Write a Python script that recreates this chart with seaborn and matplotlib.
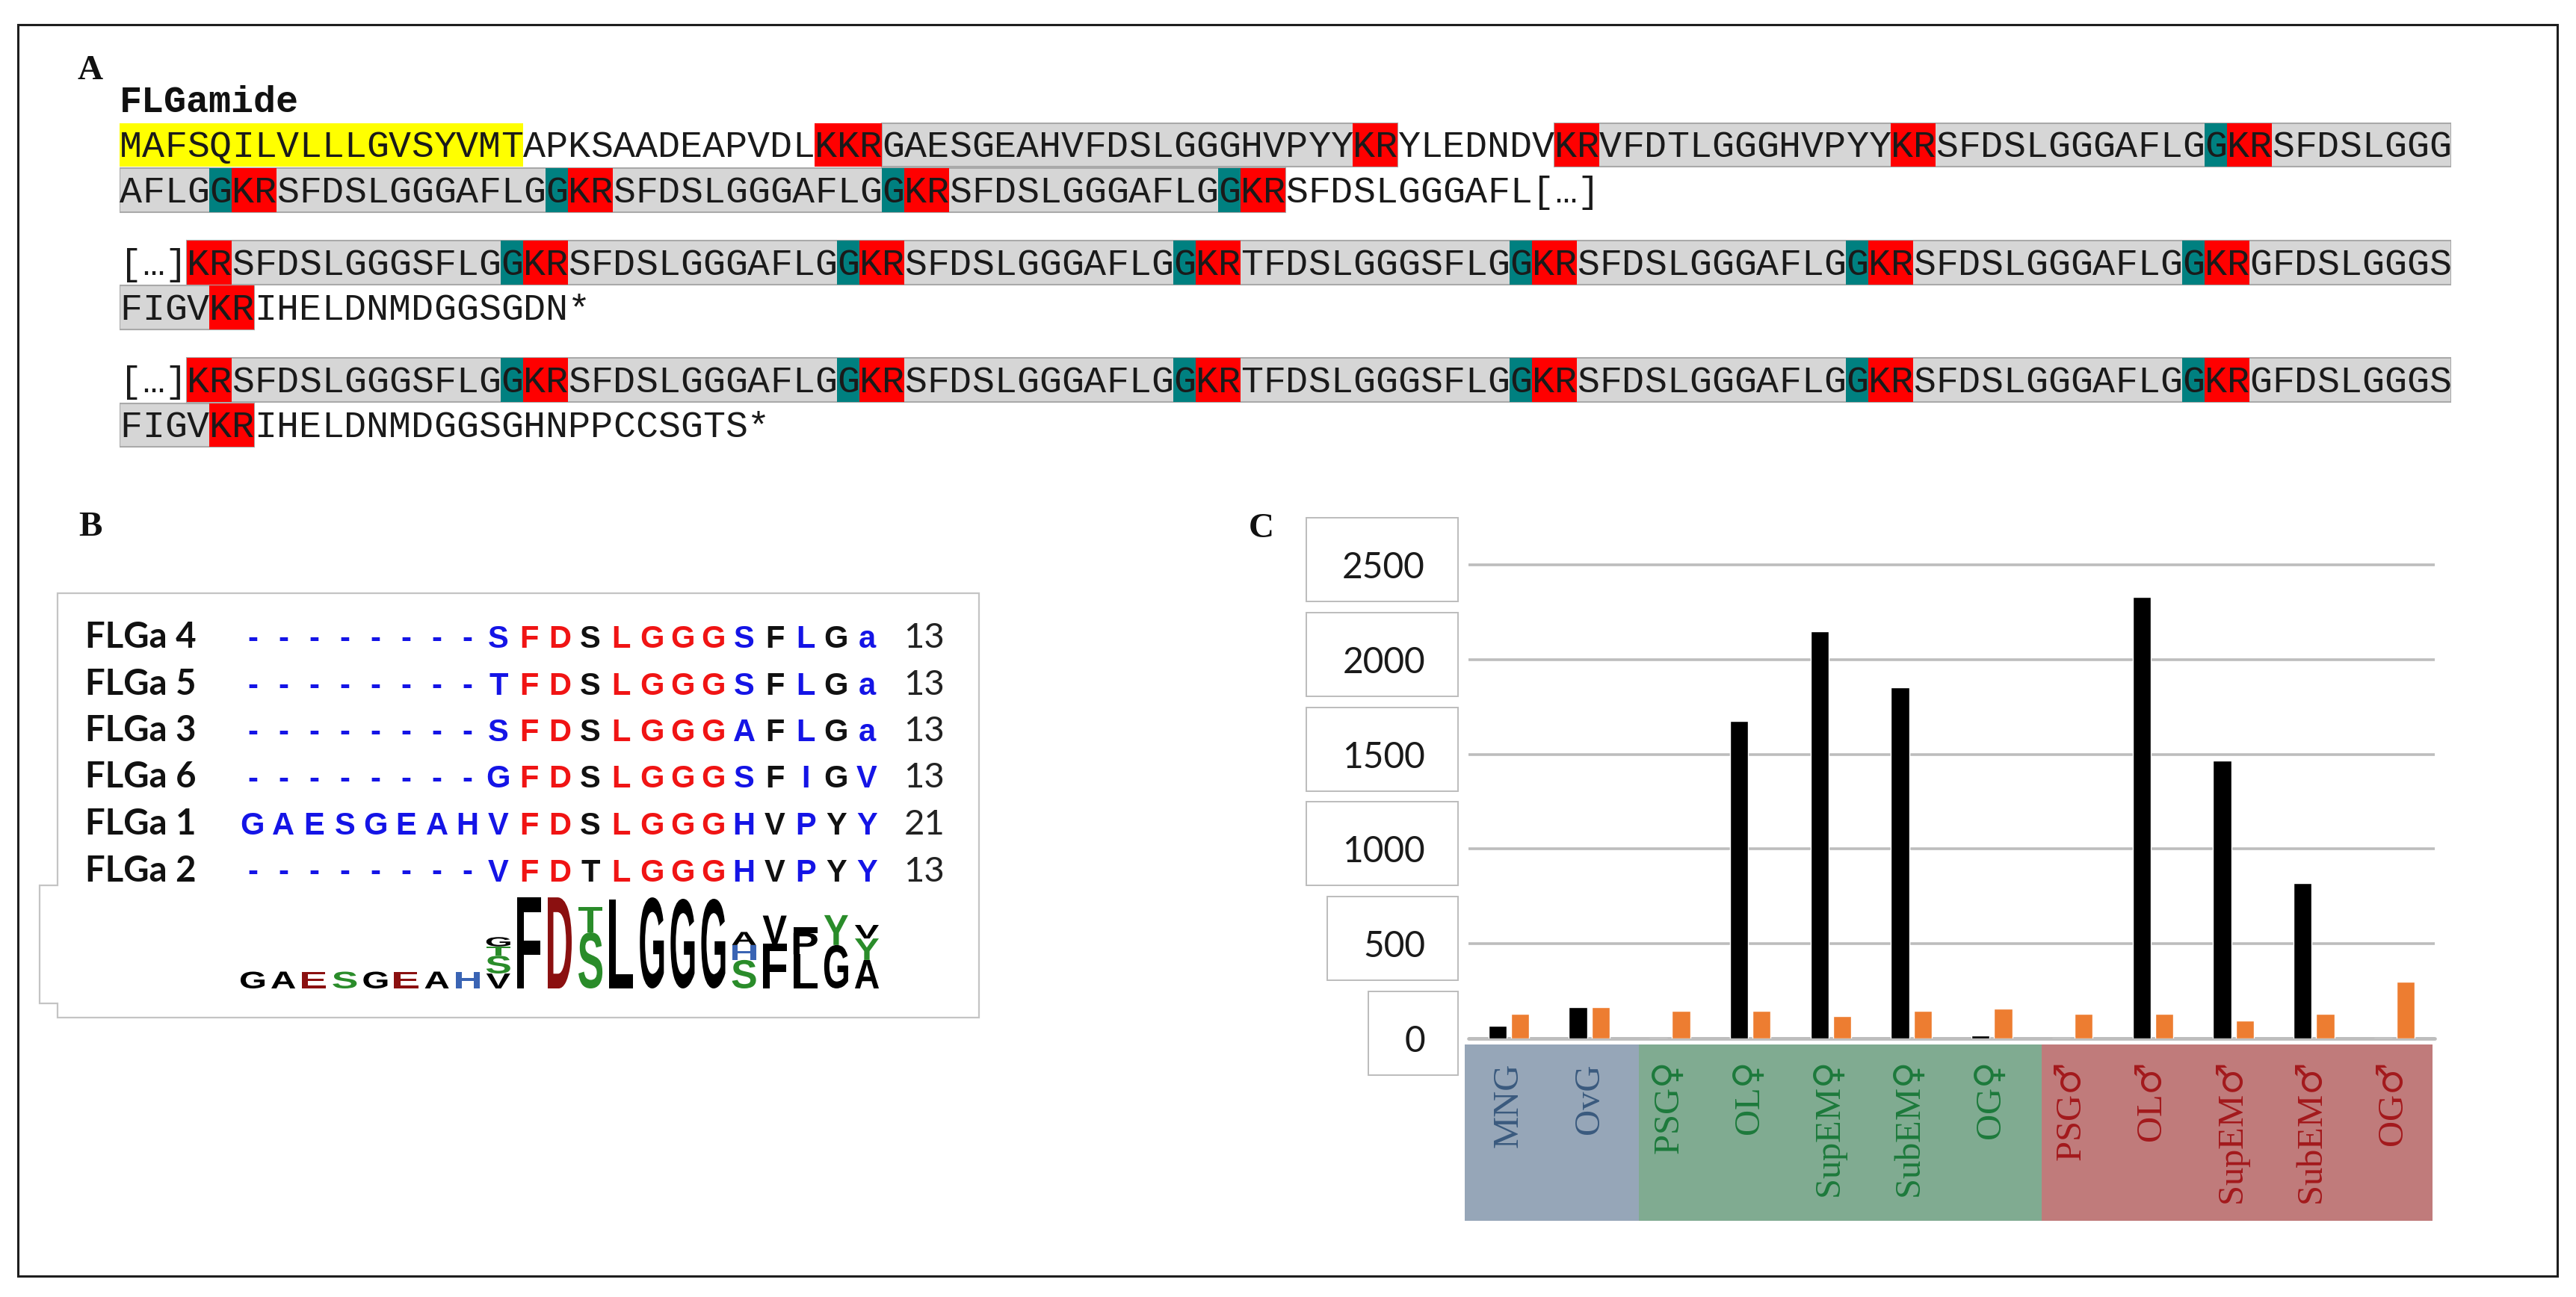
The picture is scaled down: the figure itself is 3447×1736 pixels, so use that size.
import re
import numpy as np
import pandas as pd
import matplotlib
matplotlib.use("Agg")
import matplotlib.pyplot as plt
import seaborn as sns
from matplotlib.patches import Rectangle, Polygon, PathPatch
from matplotlib.textpath import TextPath
from matplotlib.font_manager import FontProperties
from matplotlib.transforms import Affine2D, IdentityTransform, blended_transform_factory

# ---- panel A : precursor sequence ----
seq_lines = [
    "MAFSQILVLLLGVSYVMTAPKSAADEAPVDLKKRGAESGEAHVFDSLGGGHVPYYKRYLEDNDVKRVFDTLGGGHVPYYKRSFDSLGGGAFLGGKRSFDSLGGG",
    "AFLGGKRSFDSLGGGAFLGGKRSFDSLGGGAFLGGKRSFDSLGGGAFLGGKRSFDSLGGGAFL[…]",
    "[…]KRSFDSLGGGSFLGGKRSFDSLGGGAFLGGKRSFDSLGGGAFLGGKRTFDSLGGGSFLGGKRSFDSLGGGAFLGGKRSFDSLGGGAFLGGKRGFDSLGGGS",
    "FIGVKRIHELDNMDGGSGDN*",
    "[…]KRSFDSLGGGSFLGGKRSFDSLGGGAFLGGKRSFDSLGGGAFLGGKRTFDSLGGGSFLGGKRSFDSLGGGAFLGGKRSFDSLGGGAFLGGKRGFDSLGGGS",
    "FIGVKRIHELDNMDGGSGHNPPCCSGTS*",
]
signal_peptide = (0, 0, 18)          # line, start, end
peptide_spans = [(0, 34, 57), (0, 64, 104), (1, 0, 52), (2, 3, 104),
                 (3, 0, 6), (4, 3, 104), (5, 0, 6)]

# ---- panel B : alignment + logo ----
align_names = ["FLGa 4", "FLGa 5", "FLGa 3", "FLGa 6", "FLGa 1", "FLGa 2"]
align_seqs = ["--------SFDSLGGGSFLGa", "--------TFDSLGGGSFLGa", "--------SFDSLGGGAFLGa",
              "--------GFDSLGGGSFIGV", "GAESGEAHVFDSLGGGHVPYY", "--------VFDTLGGGHVPYY"]
align_lengths = [13, 13, 13, 13, 21, 13]
consensus = "lllllllllhhmhhhhlmlml"   # l = low, h = high, m = mid
logo_stacks = [
    [("G", .36)], [("A", .36)], [("E", .36)], [("S", .36)],
    [("G", .36)], [("E", .36)], [("A", .36)], [("H", .36)],
    [("V", .32), ("S", .38), ("T", .2), ("G", .2)],
    [("F", 1.95)], [("D", 1.95)], [("S", 1.2), ("T", .55)], [("L", 1.9)],
    [("G", 1.95)], [("G", 1.92)], [("G", 1.92)],
    [("S", .61), ("H", .32), ("A", .28)],
    [("F", .96), ("V", .6)],
    [("L", .73), ("P", .46), ("I", .13)],
    [("G", .93), ("Y", .64)],
    [("A", .61), ("Y", .46), ("V", .29)],
]

# ---- panel C : expression ----
tissues = ["MNG", "OvG", "PSG♀", "OL♀", "SupEM♀", "SubEM♀", "OG♀",
           "PSG♂", "OL♂", "SupEM♂", "SubEM♂", "OG♂"]
tissue_group = ["neutral"] * 2 + ["female"] * 5 + ["male"] * 5
series_1 = [69, 166, 0, 1676, 2149, 1855, 15, 0, 2329, 1467, 819, 0]
series_2 = [132, 165, 146, 146, 118, 146, 158, 132, 132, 96, 132, 298]
yticks = [0, 500, 1000, 1500, 2000, 2500]

group_fill = {"neutral": "#96a6b8", "female": "#80ab91", "male": "#c07b7b"}
group_text = {"neutral": "#3a5a7e", "female": "#1d7a3c", "male": "#a3191c"}
cons_color = {"l": "#1414e6", "h": "#f01414", "m": "#111111"}
logo_color = {"G": "black", "A": "black", "V": "black", "L": "black", "F": "black",
              "I": "black", "P": "black", "S": "#2a8c2a", "T": "#2a8c2a", "Y": "#2a8c2a",
              "D": "#8b1010", "E": "#8b1010", "H": "#3a64b4"}

sns.set_theme(style="white")
plt.rcParams["font.family"] = ["DejaVu Sans"]
plt.rcParams["mathtext.fontset"] = "custom"
plt.rcParams["mathtext.rm"] = "DejaVu Serif"

W, H = 3447, 1736
fig = plt.figure(figsize=(W / 100, H / 100), dpi=100)


def px_axes(l, t, r, b):
    ax = fig.add_axes([l / W, 1 - b / H, (r - l) / W, (b - t) / H])
    ax.set_facecolor("none")
    return ax


def sex_label(name):
    # the sex signs come out tiny in Liberation Serif, take them from DejaVu Serif
    for sign in "♀♂":
        name = name.replace(sign, r"$\mathrm{" + sign + "}$")
    return name


# frame layer, pixel coords from top-left
fr = fig.add_axes([0, 0, 1, 1])
fr.set_xlim(0, W)
fr.set_ylim(H, 0)
fr.axis("off")
fr.add_patch(Rectangle((24, 33), 3398, 1675, fill=False, ec="#1e1e1e", lw=2.2))
for lab, (x, y) in zip("ABC", [(121, 95), (121, 706), (1688, 708)]):
    fr.text(x, y, lab, ha="center", va="center", family="Liberation Serif",
            weight="bold", fontsize=34, color="#111111")
fr.text(160, 150, "FLGamide", ha="left", va="baseline", family="Liberation Mono",
        weight="bold", fontsize=36, color="#111111")
fr.add_patch(Polygon([(77, 794), (1310, 794), (1310, 1362), (77, 1362), (77, 1343),
                      (53, 1343), (53, 1185), (77, 1185)], closed=True, fill=False,
                     ec="#c4c4c4", lw=1.6))

# ---- A ----
line_pos = [0, 1, 2.6, 3.6, 5.2, 6.2]
axA = px_axes(160, 163.75, 3280, 599.35)
axA.set_xlim(0, 104)
axA.set_ylim(-6.7, 0.5)
axA.axis("off")
bh = 0.97
for ln, s, e in peptide_spans:
    axA.barh(-line_pos[ln], e - s, left=s, height=bh, color="#d6d6d6",
             edgecolor="#a9a9a9", lw=1.5, zorder=1)
ln, s, e = signal_peptide
axA.barh(-line_pos[ln], e - s, left=s, height=bh, color="#ffff00", lw=0, zorder=2)
for ln, seq in enumerate(seq_lines):
    y = -line_pos[ln]
    for m in re.finditer(r"K+R", seq):
        axA.barh(y, m.end() - m.start(), left=m.start(), height=bh, color="#ff0000", lw=0, zorder=3)
    for m in re.finditer(r"G(?=K+R)", seq):
        axA.barh(y, 1, left=m.start(), height=bh, color="#008080", lw=0, zorder=3)
    for i, ch in enumerate(seq):
        axA.text(i + 0.5, y - 0.27, ch, ha="center", va="baseline", family="Liberation Mono",
                 fontsize=36, color="#1a1a1a", zorder=4)

# ---- B ----
axB = px_axes(77, 794, 1310, 1362)
axB.set_xlim(-6.35, 23.65)
axB.set_ylim(-8.16, 0.928)
axB.axis("off")
for r, (name, seq, n) in enumerate(zip(align_names, align_seqs, align_lengths)):
    yb = -r - 0.24
    axB.text(-5.45, yb, name, ha="left", va="baseline", family="Lato", weight="bold",
             fontsize=34, color="#111111")
    for c, ch in enumerate(seq):
        axB.text(c, yb, ch, ha="center", va="baseline", family="Liberation Sans",
                 weight="bold", fontsize=30, color=cons_color[consensus[c]])
    axB.text(21.87, yb, str(n), ha="center", va="baseline", family="Lato",
             fontsize=34, color="#222222")

fp_logo = FontProperties(family="Liberation Sans", weight="bold")
base = -7.536
lw_col = 0.78
for c, stack in enumerate(logo_stacks):
    y0 = base
    for letter, h in stack:
        tp = TextPath((0, 0), letter, size=1, prop=fp_logo)
        bb = tp.get_extents()
        tr = (Affine2D().translate(-bb.x0, -bb.y0)
              .scale(lw_col / bb.width, h / bb.height)
              .translate(c - lw_col / 2, y0))
        axB.add_patch(PathPatch(tr.transform_path(tp), fc=logo_color[letter], lw=0))
        y0 += h

# ---- C ----
axC = px_axes(1965, 751, 3258, 1390)
df = pd.DataFrame({
    "tissue": tissues * 2,
    "series": ["Series 1"] * len(tissues) + ["Series 2"] * len(tissues),
    "value": series_1 + series_2,
})
sns.barplot(data=df, x="tissue", y="value", hue="series", order=tissues,
            hue_order=["Series 1", "Series 2"], palette=["#000000", "#ed7d31"],
            saturation=1, width=0.56, gap=0.2, errorbar=None, legend=False, ax=axC)
axC.set_ylim(0, 2520)
axC.set_xlim(-0.5, len(tissues) - 0.5)
axC.set_yticks(yticks)
axC.set_yticklabels([str(v) for v in yticks], family="Lato", fontsize=34.5, color="#1a1a1a")
axC.set_xticks(range(len(tissues)))
axC.set_xticklabels([sex_label(t) for t in tissues], rotation=90, fontsize=35,
                    family=["Liberation Serif", "DejaVu Serif"])
for lab, g in zip(axC.get_xticklabels(), tissue_group):
    lab.set_color(group_text[g])
axC.tick_params(axis="y", length=0, pad=41.8)
axC.tick_params(axis="x", length=0, pad=23.8)
axC.set_xlabel("")
axC.set_ylabel("")
for sp in axC.spines.values():
    sp.set_visible(False)
axC.yaxis.grid(True, color="#bdbdbd", lw=2.6)
axC.xaxis.grid(False)
axC.set_axisbelow(True)
axC.axhline(0, color="#bdbdbd", lw=3.4, clip_on=False, zorder=0.5)

# coloured group bands behind the category labels
btr = blended_transform_factory(axC.transData, axC.transAxes)
edges = {}
for i, g in enumerate(tissue_group):
    lo, hi = edges.get(g, (i, i))
    edges[g] = (min(lo, i), max(hi, i))
for g, (lo, hi) in edges.items():
    x0 = lo - 0.5 + (0.12 if lo > 0 else -0.05)
    x1 = hi + 0.5 + (0.12 if hi < len(tissues) - 1 else -0.03)
    axC.add_patch(Rectangle((x0, -0.382), x1 - x0, 0.3695, transform=btr,
                            clip_on=False, fc=group_fill[g], ec="none", zorder=0.2))

# boxes round the y tick labels
fig.canvas.draw()
for lab, v in zip(axC.get_yticklabels(), yticks):
    bb = lab.get_window_extent()
    yc = axC.transData.transform((0, v))[1] + 7
    fig.add_artist(Rectangle((bb.x0 - 48, yc - 56), bb.width + 92, 112,
                             transform=IdentityTransform(), fill=False,
                             ec="#bcbcbc", lw=1.4))

fig.savefig("out.png", dpi=100)
